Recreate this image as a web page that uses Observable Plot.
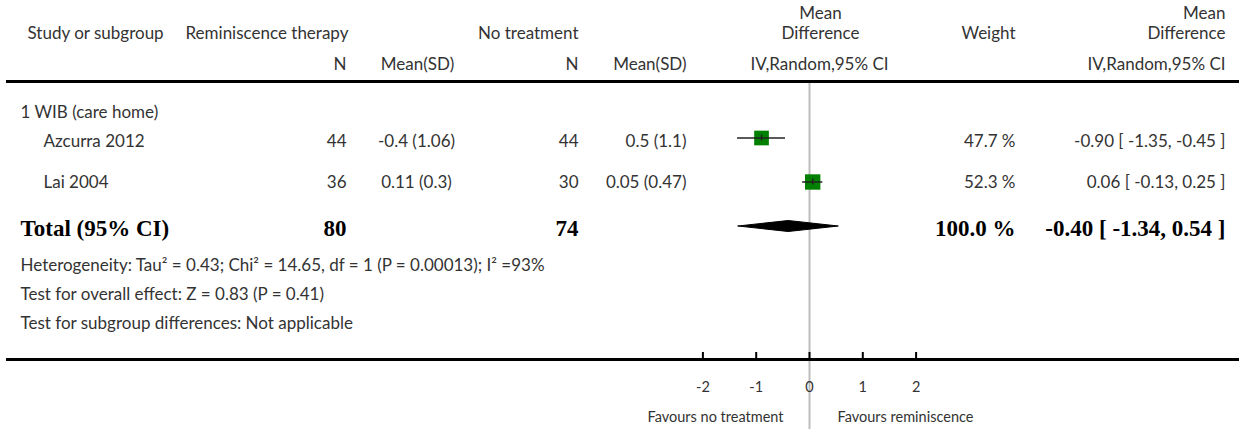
<!DOCTYPE html>
<html>
<head>
<meta charset="utf-8">
<script src="https://cdn.jsdelivr.net/npm/d3@7"></script>
<script src="https://cdn.jsdelivr.net/npm/@observablehq/plot@0.6"></script>
<style>
  html, body { margin: 0; padding: 0; background: #fff; }
  #chart svg { display: block; }
</style>
</head>
<body>
<div id="chart"></div>
<script>
// ---- data ----
const subgroup = "1 WIB (care home)";
const studies = ["Azcurra 2012", "Lai 2004"];
const expN = [44, 36];
const expMeanSD = ["-0.4 (1.06)", "0.11 (0.3)"];
const ctrlN = [44, 30];
const ctrlMeanSD = ["0.5 (1.1)", "0.05 (0.47)"];
const md = [-0.90, 0.06];
const ciLo = [-1.35, -0.13];
const ciHi = [-0.45, 0.25];
const weight = [47.7, 52.3];
const totalLabel = "Total (95% CI)";
const totalExpN = 80;
const totalCtrlN = 74;
const totalMD = -0.40;
const totalLo = -1.34;
const totalHi = 0.54;
const totalWeight = 100.0;
const footnotes = [
  "Heterogeneity: Tau\u00B2 = 0.43; Chi\u00B2 = 14.65, df = 1 (P = 0.00013); I\u00B2 =93%",
  "Test for overall effect: Z = 0.83 (P = 0.41)",
  "Test for subgroup differences: Not applicable"
];
const ticks = [-2, -1, 0, 1, 2];
const favourLeft = "Favours no treatment";
const favourRight = "Favours reminiscence";

// ---- layout ----
const W = 1239, H = 429;
const zeroPx = 809, unitPx = 53.3;
const px = p => (p - zeroPx) / unitPx; // pixel column -> x units
const rowsY = [141, 182];
const markY = [137.5, 181.5];
const totalY = 228;
const diamondY = 225.5;
const fmt = v => v.toFixed(2);
const fmtCI = (m, l, h) => `${fmt(m)} [ ${fmt(l)}, ${fmt(h)} ]`;

const rows = studies.map((s, i) => ({
  study: s, en: expN[i], ems: expMeanSD[i], cn: ctrlN[i], cms: ctrlMeanSD[i],
  md: md[i], lo: ciLo[i], hi: ciHi[i], w: weight[i], y: rowsY[i], my: markY[i]
}));
const diamond = [
  {x: totalLo, y: diamondY}, {x: totalMD, y: diamondY - 5.5},
  {x: totalHi, y: diamondY}, {x: totalMD, y: diamondY + 5.5}, {x: totalLo, y: diamondY}
];

const T = (text, x, y, anchor, extra = {}) =>
  Plot.text([text], {text: d => d, x: px(x), y, textAnchor: anchor, ...extra});
const bold = {fontFamily: "'Liberation Serif', serif", fontWeight: "bold", fontSize: 23, fill: "#000"};
const small = {fontSize: 14.5};

const chart = Plot.plot({
  width: W, height: H,
  marginTop: 0, marginBottom: 0, marginLeft: 0, marginRight: 0,
  x: {domain: [px(0), px(W)], range: [0, W], axis: null},
  y: {domain: [0, H], range: [0, H], axis: null},
  r: {type: "sqrt", domain: [0, 100], range: [0, 12]},
  style: {fontFamily: "Lato, 'Open Sans', sans-serif", fontSize: "17px", color: "#333", background: "#fff"},
  marks: [
    // zero line
    Plot.ruleX([0], {y1: 83, y2: H, stroke: "#bdbdbd", strokeWidth: 2}),
    // header
    T("Study or subgroup", 27, 33, "start"),
    T("Reminiscence therapy", 185, 33, "start"),
    T("No treatment", 578, 33, "end"),
    T("Mean", 820, 13, "middle"),
    T("Difference", 820, 33, "middle"),
    T("Weight", 1015, 33, "end"),
    T("Mean", 1225, 13, "end"),
    T("Difference", 1225, 33, "end"),
    T("N", 346, 64, "end"),
    T("Mean(SD)", 417, 64, "middle"),
    T("N", 578, 64, "end"),
    T("Mean(SD)", 686, 64, "end"),
    T("IV,Random,95% CI", 819, 64, "middle"),
    T("IV,Random,95% CI", 1225, 64, "end"),
    Plot.ruleY([81], {x1: px(6), x2: px(W), stroke: "#000", strokeWidth: 3}),
    // subgroup
    T(subgroup, 20, 112, "start"),
    // study rows
    Plot.text(rows, {x: px(43), y: "y", text: "study", textAnchor: "start"}),
    Plot.text(rows, {x: px(346), y: "y", text: "en", textAnchor: "end"}),
    Plot.text(rows, {x: px(416), y: "y", text: "ems", textAnchor: "middle"}),
    Plot.text(rows, {x: px(578), y: "y", text: "cn", textAnchor: "end"}),
    Plot.text(rows, {x: px(686), y: "y", text: "cms", textAnchor: "end"}),
    Plot.text(rows, {x: px(1015), y: "y", text: d => `${d.w.toFixed(1)} %`, textAnchor: "end"}),
    Plot.text(rows, {x: px(1225), y: "y", text: d => fmtCI(d.md, d.lo, d.hi), textAnchor: "end"}),
    // squares + CI
    Plot.dot(rows, {x: "md", y: "my", r: "w", symbol: "square", fill: "#008000", stroke: "none"}),
    Plot.ruleY(rows, {y: "my", x1: "lo", x2: "hi", stroke: "#222", strokeWidth: 1.5}),
    Plot.ruleX(rows, {x: "md", y1: d => d.my - 3, y2: d => d.my + 3, stroke: "#222", strokeWidth: 1.5}),
    // total
    T(totalLabel, 20, totalY, "start", bold),
    T(String(totalExpN), 346, totalY, "end", bold),
    T(String(totalCtrlN), 578, totalY, "end", bold),
    T(`${totalWeight.toFixed(1)} %`, 1015, totalY, "end", bold),
    T(fmtCI(totalMD, totalLo, totalHi), 1225, totalY, "end", bold),
    Plot.line(diamond, {x: "x", y: "y", fill: "#000", stroke: "#000", strokeWidth: 1}),
    // footnotes
    Plot.text(footnotes, {x: px(20), y: (d, i) => [265, 294, 323][i], text: d => d, textAnchor: "start"}),
    // axis
    Plot.ruleY([359], {x1: px(6), x2: px(W), stroke: "#000", strokeWidth: 3}),
    Plot.ruleX(ticks, {x: d => d, y1: 352, y2: 358, stroke: "#000", strokeWidth: 2}),
    Plot.text(ticks, {x: d => d, y: 387, text: d => String(d), textAnchor: "middle", ...small}),
    T(favourLeft, 783, 417, "end", small),
    T(favourRight, 837, 417, "start", small)
  ]
});
document.getElementById("chart").appendChild(chart);
</script>
</body>
</html>
